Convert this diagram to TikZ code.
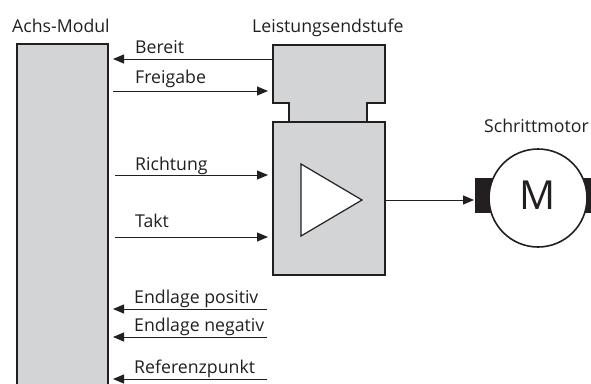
\documentclass[tikz,border=0pt]{standalone}
\usepackage{fontspec}
\setmainfont{Open Sans}
\usetikzlibrary{arrows.meta}
\definecolor{boxgray}{RGB}{211,212,214}
\definecolor{ink}{RGB}{35,31,32}
\begin{document}
\begin{tikzpicture}[x=1pt,y=-1pt,
  lbl/.style={anchor=base west,inner sep=0pt,font=\fontsize{17.7}{21}\selectfont,text=ink},
  sig/.style={draw=ink,line width=1pt,-{Triangle[length=11pt,width=9pt]}},
  blk/.style={draw=ink,line width=1.2pt,fill=boxgray}]
\useasboundingbox (0,0) rectangle (591,383);
% Achs-Modul box
\path[blk] (17,390) -- (17,44) -- (108,44) -- (108,390);
% Leistungsendstufe
\path[blk] (273,122) rectangle (385,275);
\path[blk] (289,122) -- (289,103) -- (273,103) -- (273,45) -- (385,45) -- (385,103) -- (367,103) -- (367,122);
\draw[ink,line width=1.2pt] (273,122) -- (385,122);
% triangle
\draw[ink,line width=1.2pt,fill=white] (301,164) -- (362,200) -- (301,236) -- cycle;
% motor
\fill[ink] (475,178) rectangle (495,213);
\fill[ink] (581,178) rectangle (600,213);
\node[circle,draw=ink,line width=1.6pt,fill=white,minimum size=98pt,inner sep=0pt] (mot) at (538,198) {};
\node[inner sep=0pt,font=\fontsize{40}{40}\selectfont,text=ink] (M) at (538,195) {M};
% labels
\node[lbl] (tam) at (12,32) {Achs-Modul};
\node[lbl] (tle) at (252,32) {Leistungsendstufe};
\node[lbl] (tsm) at (484,132) {Schrittmotor};
\node[lbl] (l1) at (135,53) {Bereit};
\node[lbl] (l2) at (135,83) {Freigabe};
\node[lbl] (l3) at (135,170) {Richtung};
\node[lbl] (l4) at (135,227) {Takt};
\node[lbl] (l5) at (134,303) {Endlage positiv};
\node[lbl] (l6) at (134,331) {Endlage negativ};
\node[lbl] (l7) at (134,373) {Referenzpunkt};
% connector endpoints
\coordinate (a1) at (273,59); \coordinate (b1) at (113,59);
\coordinate (a2) at (113,91); \coordinate (b2) at (268,91);
\coordinate (a3) at (115,175); \coordinate (b3) at (268,175);
\coordinate (a4) at (115,237); \coordinate (b4) at (268,237);
\coordinate (a5) at (267,309); \coordinate (b5) at (113,309);
\coordinate (a6) at (267,337); \coordinate (b6) at (113,337);
\coordinate (a7) at (267,379); \coordinate (b7) at (113,379);
\coordinate (ao) at (385,200); \coordinate (bo) at (474,200);
\foreach \i in {1,...,7} {\draw[sig] (a\i) -- (b\i);}
\draw[sig] (ao) -- (bo);
\end{tikzpicture}
\end{document}
